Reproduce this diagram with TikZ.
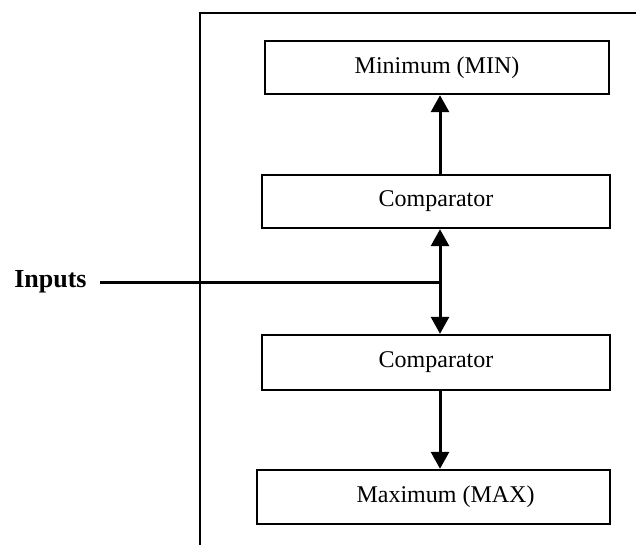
\documentclass[tikz,border=0pt]{standalone}
\usepackage{fontspec}
\setmainfont{Liberation Serif}
\usetikzlibrary{arrows.meta}
\begin{document}
\begin{tikzpicture}[x=0.5pt,y=-0.5pt,
  blk/.style={draw=black,line width=1.2pt,fill=white,inner sep=0pt,font=\fontsize{12}{14}\selectfont},
  conn/.style={line width=1.5pt,-{Triangle[width=9pt,length=8.5pt]}},
  frame/.style={line width=1pt}]
\useasboundingbox (0,0) rectangle (636,545);
\node[blk,minimum width=172pt,minimum height=26.5pt] (min) at (437,67.5) {Minimum (MIN)};
\node[blk,minimum width=174pt,minimum height=26.5pt] (c1) at (436,201.5) {Comparator};
\node[blk,minimum width=174pt,minimum height=27.5pt] (c2) at (436,362.5) {Comparator};
\node[blk,minimum width=176.5pt,minimum height=27pt] (max) at (433.5,497) {\hspace*{12pt}Maximum (MAX)};
\coordinate (j) at (440,282);
\coordinate (fb) at (200,545);
\coordinate (ftl) at (200,13);
\coordinate (ftr) at (636,13);
\node[anchor=east,inner xsep=6.5pt,inner ysep=0pt,font=\bfseries\fontsize{13}{15}\selectfont] (in) at (100,282) {Inputs};
\draw[frame] (fb) -- (ftl) -- (ftr);
\draw[line width=1.5pt] (in.east) -- (j);
\draw[conn] (c1.north -| j) -- (min.south -| j);
\draw[conn] (j) -- (c1.south -| j);
\draw[conn] (j) -- (c2.north -| j);
\draw[conn] (c2.south -| j) -- (max.north -| j);
\end{tikzpicture}
\end{document}
